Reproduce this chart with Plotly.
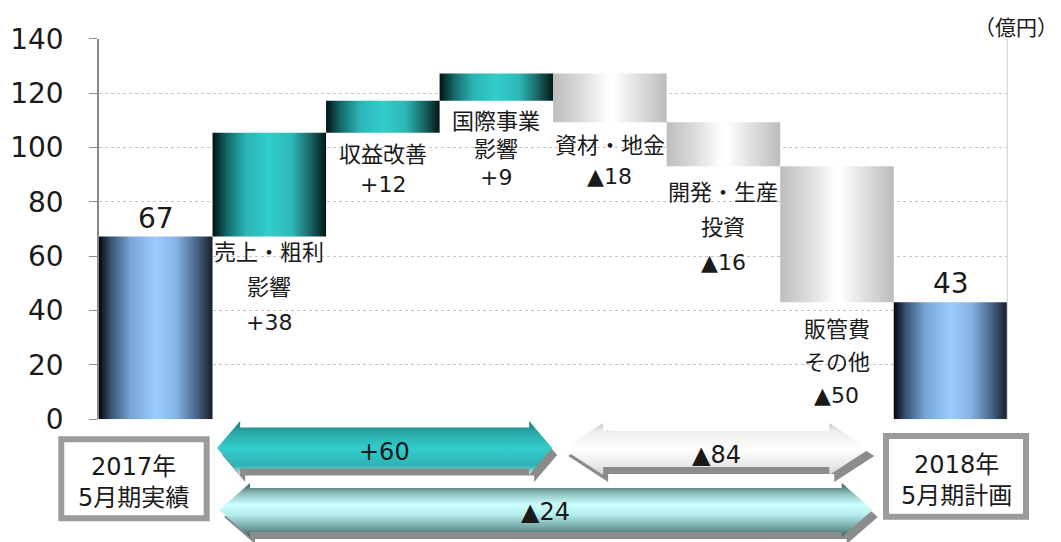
import plotly.graph_objects as go

# ---------------- data ----------------
categories = ["2017年5月期実績", "売上・粗利影響", "収益改善", "国際事業影響",
              "資材・地金", "開発・生産投資", "販管費その他", "2018年5月期計画"]
start_value = 67.2
deltas = [38.2, 11.8, 10.0, -17.9, -16.2, -50.0]
end_value = 43.1
total_labels = ["67", "43"]
delta_labels = ["+38", "+12", "+9", "▲18", "▲16", "▲50"]
delta_names = [["売上・粗利", "影響"], ["収益改善"], ["国際事業", "影響"],
               ["資材・地金"], ["開発・生産", "投資"], ["販管費", "その他"]]
group_labels = ["+60", "▲84", "▲24"]
group_first = [1, 4, 1]
group_last = [3, 6, 6]
period_labels = ["2017年<br>5月期実績", "2018年<br>5月期計画"]
unit_label = "（億円）"
y_ticks = [0, 20, 40, 60, 80, 100, 120, 140]

# ---------------- layout constants ----------------
W, H = 1061, 542
PX_L, PX_R, PX_T, PX_B = 99.0, 1007.3, 38.7, 419.3
N = len(categories)
CW = (PX_R - PX_L) / N
FONT = "DejaVu Sans, Noto Sans CJK JP, sans-serif"
TXT = "#1a1a1a"

# waterfall levels
bases, tops, kinds = [0.0], [start_value], ["total"]
level = start_value
for d in deltas:
    new = level + d
    bases.append(min(level, new))
    tops.append(max(level, new))
    kinds.append("up" if d > 0 else "down")
    level = new
bases.append(0.0)
tops.append(end_value)
kinds.append("total")

GRAD = {
    "total": [[0, "#03060a"], [0.1, "#34506e"], [0.28, "#78a6d6"], [0.5, "#99ccff"],
              [0.68, "#86b4e4"], [0.86, "#48658a"], [1, "#161e2a"]],
    "up": [[0, "#011212"], [0.13, "#156a6a"], [0.3, "#2bb5b5"], [0.5, "#33cccc"],
           [0.7, "#2db8b8"], [0.87, "#186262"], [1, "#031616"]],
    "down": [[0, "#bdbdbd"], [0.25, "#dcdcdc"], [0.47, "#fcfcfc"], [0.53, "#ffffff"],
             [0.75, "#dfdfdf"], [1, "#bcbcbc"]],
}

fig = go.Figure()

for i, (b, t, k) in enumerate(zip(bases, tops, kinds)):
    fig.add_trace(go.Scatter(
        x=[i - 0.5, i + 0.5, i + 0.5, i - 0.5], y=[b, b, t, t],
        mode="lines", fill="toself",
        line=dict(width=0, color="rgba(0,0,0,0)"),
        fillgradient=dict(type="horizontal", colorscale=GRAD[k]),
        hoverinfo="skip", showlegend=False, xaxis="x", yaxis="y"))

annotations = []
# totals labels above bars
for idx, lab in zip([0, N - 1], total_labels):
    annotations.append(dict(x=idx, y=tops[idx], xref="x", yref="y", text=lab,
                            showarrow=False, yanchor="bottom", yshift=0,
                            font=dict(size=28, color=TXT, family=FONT)))

# delta labels below bars (one annotation per line)
first_off = [16, 22, 21, 23, 26, 27]
line_gap = [35, 30, 28, 31, 35, 33]
for j, (names, val) in enumerate(zip(delta_names, delta_labels)):
    i = j + 1
    lines = names + [val]
    for k, ln in enumerate(lines):
        annotations.append(dict(x=i, y=bases[i], xref="x", yref="y", text=ln,
                                showarrow=False, yanchor="middle",
                                yshift=-(first_off[j] + k * line_gap[j]),
                                font=dict(size=22, color=TXT, family=FONT)))

# ---------------- decoration strip (x2 in category units, y2 in pixels) ----------------
def cu(idx, dpx):
    return idx + dpx / CW

arrow_style = [
    dict(yc=448, shaft=20.5, head=27, hl=23, il=4.6, ir=1.0, ty=452,
         grad=[[0, "#e6f4f4"], [0.07, "#8fd6d6"], [0.17, "#2fb3b3"], [0.5, "#33cccc"],
               [0.8, "#2ba6a6"], [1, "#1f7474"]]),
    dict(yc=449, shaft=18, head=26, hl=40, il=10, ir=24.5, ty=455,
         grad=[[0, "#cfcfcf"], [0.15, "#e6e6e6"], [0.5, "#ffffff"], [0.85, "#ececec"],
               [1, "#c6c6c6"]]),
    dict(yc=510, shaft=22, head=27, hl=31, il=6.5, ir=21, ty=512,
         grad=[[0, "#3c5e5e"], [0.18, "#76a6a6"], [0.42, "#b8eeee"], [0.6, "#ccffff"],
               [0.8, "#90c2c2"], [1, "#375858"]]),
]
SH_DX, SH_DY = 5, 7

for lab, f, l, st in zip(group_labels, group_first, group_last, arrow_style):
    x0 = cu(f - 0.5, st["il"])
    x1 = cu(l + 0.5, -st["ir"])
    hl = st["hl"] / CW
    yc, s, h = st["yc"], st["shaft"], st["head"]
    xs = [x0, x0 + hl, x0 + hl, x1 - hl, x1 - hl, x1, x1 - hl, x1 - hl, x0 + hl, x0 + hl, x0]
    ys = [yc, yc - h, yc - s, yc - s, yc - h, yc, yc + h, yc + s, yc + s, yc + h, yc]
    fig.add_trace(go.Scatter(
        x=[v + SH_DX / CW for v in xs], y=[v + SH_DY for v in ys],
        mode="lines", fill="toself", fillcolor="#8c8c8c",
        line=dict(width=0, color="rgba(0,0,0,0)"),
        hoverinfo="skip", showlegend=False, xaxis="x2", yaxis="y2"))
    fig.add_trace(go.Scatter(
        x=xs, y=ys, mode="lines", fill="toself",
        line=dict(width=0, color="rgba(0,0,0,0)"),
        fillgradient=dict(type="vertical", colorscale=st["grad"]),
        hoverinfo="skip", showlegend=False, xaxis="x2", yaxis="y2"))
    annotations.append(dict(x=(x0 + x1) / 2, y=st["ty"], xref="x2", yref="y2", text=lab,
                            showarrow=False, yanchor="middle",
                            font=dict(size=24, color=TXT, family=FONT)))

shapes = []
box_style = [
    dict(idx=0, x0=-94.5, x1=50.9, y0=439.3, y1=518.3, tx=-21.8, ty=482),
    dict(idx=N - 1, x0=-64.5, x1=75.5, y0=436.0, y1=516.7, tx=5.5, ty=480),
]
for lab, bs in zip(period_labels, box_style):
    shapes.append(dict(type="rect", xref="x2", yref="y2",
                       x0=cu(bs["idx"], bs["x0"]), x1=cu(bs["idx"], bs["x1"]),
                       y0=bs["y0"], y1=bs["y1"],
                       line=dict(color="#9b9b9b", width=6), fillcolor="white", layer="above"))
    annotations.append(dict(x=cu(bs["idx"], bs["tx"]), y=bs["ty"], xref="x2", yref="y2",
                            text=lab, showarrow=False, yanchor="middle",
                            font=dict(size=24, color=TXT, family=FONT)))

# right border of plot area
shapes.append(dict(type="line", xref="x domain", yref="y domain", x0=1, x1=1, y0=0, y1=1,
                   line=dict(color="#d4d4d4", width=1.2), layer="above"))

annotations.append(dict(x=1060 / W, y=1 - 28 / H, xref="paper", yref="paper", text=unit_label,
                        showarrow=False, xanchor="right", yanchor="middle",
                        font=dict(size=21, color=TXT, family=FONT)))

fig.update_layout(
    template="none",
    width=W, height=H,
    margin=dict(l=0, r=0, t=0, b=0, pad=0, autoexpand=False),
    paper_bgcolor="white", plot_bgcolor="rgba(0,0,0,0)",
    showlegend=False,
    font=dict(family=FONT, color=TXT),
    xaxis=dict(domain=[PX_L / W, PX_R / W], range=[-0.5, N - 0.5], anchor="y",
               showgrid=False, zeroline=False, showticklabels=False, ticks="",
               showline=False, fixedrange=True, automargin=False),
    yaxis=dict(domain=[1 - PX_B / H, 1 - PX_T / H], range=[0, 140], anchor="x",
               tickvals=y_ticks, ticktext=[str(v) for v in y_ticks],
               showgrid=True, gridcolor="#c4c4c4", griddash="dot", gridwidth=1,
               zeroline=False, showline=True, linecolor="#8a8a8a", linewidth=1.5,
               ticks="outside", ticklen=8, tickcolor="#8a8a8a", tickwidth=1.2,
               ticklabelstandoff=20, automargin=False,
               tickfont=dict(size=28, color=TXT, family=FONT), fixedrange=True),
    xaxis2=dict(domain=[0, 1], range=[-0.5 - PX_L / CW, N - 0.5 + (W - PX_R) / CW],
                anchor="y2", visible=False, fixedrange=True, automargin=False),
    yaxis2=dict(domain=[0, 1], range=[H, 0], anchor="x2", visible=False, fixedrange=True,
                automargin=False),
    annotations=annotations,
    shapes=shapes,
)

fig.write_html("out.html")
